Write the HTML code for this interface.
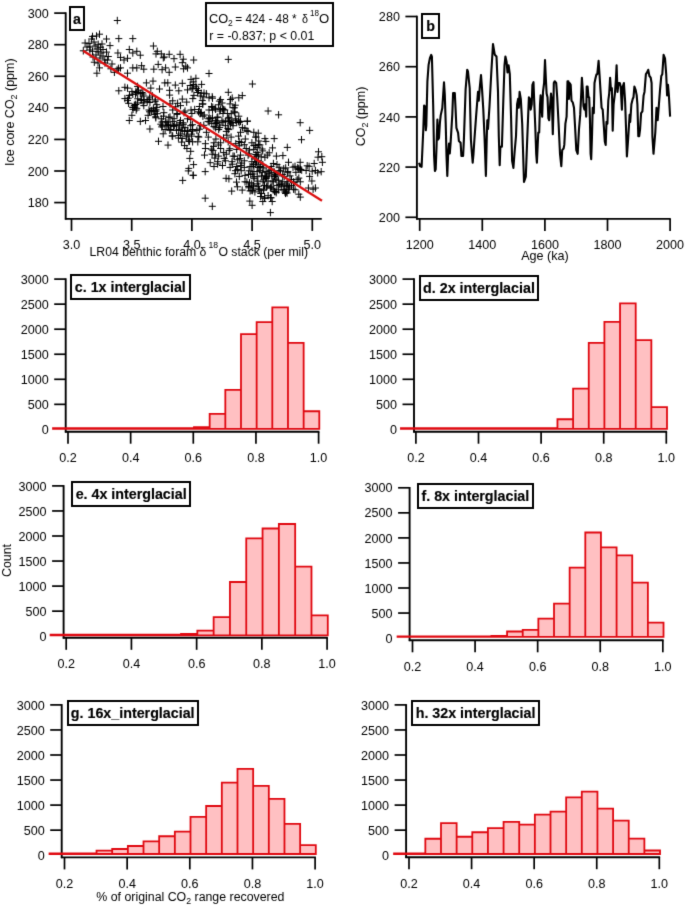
<!DOCTYPE html><html><head><meta charset="utf-8"><style>html,body{margin:0;padding:0;background:#fff;overflow:hidden}svg{display:block}#w{width:685px;height:905px}</style></head><body><div id="w"><svg width="685" height="905" viewBox="0 0 685 905" style="font-family:'Liberation Sans', sans-serif" fill="#000"><defs><filter id="bl" x="0" y="0" width="100%" height="100%" filterUnits="userSpaceOnUse" color-interpolation-filters="sRGB"><feConvolveMatrix order="3" kernelMatrix="0.0114 0.0841 0.0114 0.0841 0.618 0.0841 0.0114 0.0841 0.0114" edgeMode="none"/></filter></defs><rect width="685" height="905" fill="#fff"/><g filter="url(#bl)"><line x1="65.70" y1="12.30" x2="65.70" y2="219.60" stroke="#000" stroke-width="1.9"/>
<line x1="54.20" y1="13.10" x2="65.70" y2="13.10" stroke="#000" stroke-width="1.7"/>
<text transform="translate(48.70 17.70) scale(1.05 1)" text-anchor="end" font-size="12" font-weight="normal" >300</text>
<line x1="54.20" y1="44.68" x2="65.70" y2="44.68" stroke="#000" stroke-width="1.7"/>
<text transform="translate(48.70 49.28) scale(1.05 1)" text-anchor="end" font-size="12" font-weight="normal" >280</text>
<line x1="54.20" y1="76.26" x2="65.70" y2="76.26" stroke="#000" stroke-width="1.7"/>
<text transform="translate(48.70 80.86) scale(1.05 1)" text-anchor="end" font-size="12" font-weight="normal" >260</text>
<line x1="54.20" y1="107.84" x2="65.70" y2="107.84" stroke="#000" stroke-width="1.7"/>
<text transform="translate(48.70 112.44) scale(1.05 1)" text-anchor="end" font-size="12" font-weight="normal" >240</text>
<line x1="54.20" y1="139.42" x2="65.70" y2="139.42" stroke="#000" stroke-width="1.7"/>
<text transform="translate(48.70 144.02) scale(1.05 1)" text-anchor="end" font-size="12" font-weight="normal" >220</text>
<line x1="54.20" y1="171.00" x2="65.70" y2="171.00" stroke="#000" stroke-width="1.7"/>
<text transform="translate(48.70 175.60) scale(1.05 1)" text-anchor="end" font-size="12" font-weight="normal" >200</text>
<line x1="54.20" y1="202.58" x2="65.70" y2="202.58" stroke="#000" stroke-width="1.7"/>
<text transform="translate(48.70 207.18) scale(1.05 1)" text-anchor="end" font-size="12" font-weight="normal" >180</text>
<line x1="64.90" y1="218.90" x2="321.80" y2="218.90" stroke="#000" stroke-width="1.9"/>
<line x1="71.50" y1="218.90" x2="71.50" y2="230.90" stroke="#000" stroke-width="1.7"/>
<text transform="translate(71.50 249.40) scale(1.05 1)" text-anchor="middle" font-size="12" font-weight="normal" >3.0</text>
<line x1="131.70" y1="218.90" x2="131.70" y2="230.90" stroke="#000" stroke-width="1.7"/>
<text transform="translate(131.70 249.40) scale(1.05 1)" text-anchor="middle" font-size="12" font-weight="normal" >3.5</text>
<line x1="191.90" y1="218.90" x2="191.90" y2="230.90" stroke="#000" stroke-width="1.7"/>
<text transform="translate(191.90 249.40) scale(1.05 1)" text-anchor="middle" font-size="12" font-weight="normal" >4.0</text>
<line x1="252.10" y1="218.90" x2="252.10" y2="230.90" stroke="#000" stroke-width="1.7"/>
<text transform="translate(252.10 249.40) scale(1.05 1)" text-anchor="middle" font-size="12" font-weight="normal" >4.5</text>
<line x1="312.30" y1="218.90" x2="312.30" y2="230.90" stroke="#000" stroke-width="1.7"/>
<text transform="translate(312.30 249.40) scale(1.05 1)" text-anchor="middle" font-size="12" font-weight="normal" >5.0</text>
<text transform="translate(14.2,112.2) rotate(-90) scale(1.04 1)" text-anchor="middle" font-size="12">Ice core CO<tspan font-size="8.5" dy="3">2</tspan><tspan dy="-3"> (ppm)</tspan></text>
<text transform="translate(89.5 256.1) scale(1.02 1)" font-size="12">LR04 benthic foram δ<tspan font-size="8.5" dx="2" dy="-8">18</tspan><tspan dx="0.3" dy="8">O stack (per mil)</tspan></text>
<path d="M113.8 20.5h7M117.3 16.8v7.4M96.0 34.2h7M99.5 30.5v7.4M93.0 36.0h7M96.5 32.3v7.4M89.0 36.4h7M92.5 32.7v7.4M88.1 39.0h7M91.6 35.3v7.4M103.0 39.0h7M106.5 35.3v7.4M115.3 38.6h7M118.8 34.9v7.4M129.3 38.6h7M132.8 34.9v7.4M81.6 43.0h7M85.1 39.3v7.4M85.5 43.4h7M89.0 39.7v7.4M94.7 44.3h7M98.2 40.6v7.4M91.6 46.0h7M95.1 42.3v7.4M96.9 47.3h7M100.4 43.6v7.4M106.5 45.6h7M110.0 41.9v7.4M79.8 50.8h7M83.3 47.1v7.4M86.4 50.0h7M89.9 46.3v7.4M89.0 51.3h7M92.5 47.6v7.4M94.7 51.7h7M98.2 48.0v7.4M103.0 52.1h7M106.5 48.4v7.4M99.5 49.5h7M103.0 45.8v7.4M114.4 53.0h7M117.9 49.3v7.4M125.8 49.5h7M129.3 45.8v7.4M129.3 53.0h7M132.8 49.3v7.4M117.0 57.4h7M120.5 53.7v7.4M120.5 60.0h7M124.0 56.3v7.4M124.0 58.3h7M127.5 54.6v7.4M104.8 56.5h7M108.3 52.8v7.4M103.9 60.0h7M107.4 56.3v7.4M101.3 60.0h7M104.8 56.3v7.4M90.8 62.2h7M94.3 58.5v7.4M96.0 67.9h7M99.5 64.2v7.4M107.4 68.8h7M110.9 65.1v7.4M117.0 67.9h7M120.5 64.2v7.4M110.9 72.3h7M114.4 68.6v7.4M129.3 67.9h7M132.8 64.2v7.4M93.4 73.2h7M96.9 69.5v7.4M124.0 73.2h7M127.5 69.5v7.4M86.5 47.0h7M90.0 43.3v7.4M90.5 42.0h7M94.0 38.3v7.4M93.5 49.0h7M97.0 45.3v7.4M97.5 53.0h7M101.0 49.3v7.4M99.5 56.0h7M103.0 52.3v7.4M96.5 58.0h7M100.0 54.3v7.4M92.5 55.0h7M96.0 51.3v7.4M89.5 57.0h7M93.0 53.3v7.4M98.5 44.0h7M102.0 40.3v7.4M83.5 47.0h7M87.0 43.3v7.4M101.5 63.0h7M105.0 59.3v7.4M94.5 63.0h7M98.0 59.3v7.4M108.5 64.0h7M112.0 60.3v7.4M113.5 70.0h7M117.0 66.3v7.4M149.9 46.0h7M153.4 42.3v7.4M133.3 51.3h7M136.8 47.6v7.4M136.8 55.2h7M140.3 51.5v7.4M153.8 51.3h7M157.3 47.6v7.4M152.5 53.9h7M156.0 50.2v7.4M157.8 53.9h7M161.3 50.2v7.4M160.8 57.0h7M164.3 53.3v7.4M165.7 54.3h7M169.2 50.6v7.4M170.5 58.7h7M174.0 55.0v7.4M176.6 54.3h7M180.1 50.6v7.4M178.8 62.7h7M182.3 59.0v7.4M190.2 60.0h7M193.7 56.3v7.4M138.1 65.7h7M141.6 62.0v7.4M140.3 69.2h7M143.8 65.5v7.4M133.3 67.9h7M136.8 64.2v7.4M150.3 69.2h7M153.8 65.5v7.4M154.7 64.4h7M158.2 60.7v7.4M158.6 69.7h7M162.1 66.0v7.4M162.1 67.9h7M165.6 64.2v7.4M165.7 72.3h7M169.2 68.6v7.4M171.8 67.0h7M175.3 63.3v7.4M180.1 68.8h7M183.6 65.1v7.4M184.0 67.9h7M187.5 64.2v7.4M182.3 66.2h7M185.8 62.5v7.4M224.8 59.4h7M228.3 55.7v7.4M205.5 73.5h7M209.0 69.8v7.4M198.1 84.4h7M201.6 80.7v7.4M248.9 84.0h7M252.4 80.3v7.4M224.8 92.3h7M228.3 88.6v7.4M192.4 78.3h7M195.9 74.6v7.4M192.4 86.2h7M195.9 82.5v7.4M195.0 90.5h7M198.5 86.8v7.4M115.3 90.8h7M118.8 87.1v7.4M121.4 87.3h7M124.9 83.6v7.4M124.0 88.1h7M127.5 84.4v7.4M128.4 91.6h7M131.9 87.9v7.4M129.3 94.3h7M132.8 90.6v7.4M121.4 98.6h7M124.9 94.9v7.4M124.9 98.2h7M128.4 94.5v7.4M124.0 100.4h7M127.5 96.7v7.4M129.3 107.4h7M132.8 103.7v7.4M128.4 115.3h7M131.9 111.6v7.4M125.8 120.5h7M129.3 116.8v7.4M149.5 81.1h7M153.0 77.4v7.4M142.9 82.9h7M146.4 79.2v7.4M161.3 82.9h7M164.8 79.2v7.4M164.3 82.9h7M167.8 79.2v7.4M171.8 85.1h7M175.3 81.4v7.4M178.8 83.3h7M182.3 79.6v7.4M156.0 89.0h7M159.5 85.3v7.4M166.1 90.3h7M169.6 86.6v7.4M166.1 95.1h7M169.6 91.4v7.4M187.5 79.4h7M191.0 75.7v7.4M184.0 89.9h7M187.5 86.2v7.4M175.3 90.8h7M178.8 87.1v7.4M189.3 98.6h7M192.8 94.9v7.4M178.8 99.1h7M182.3 95.4v7.4M183.2 102.1h7M186.7 98.4v7.4M169.2 100.8h7M172.7 97.1v7.4M147.3 88.1h7M150.8 84.4v7.4M136.8 121.4h7M140.3 117.7v7.4M142.0 120.5h7M145.5 116.8v7.4M144.6 115.3h7M148.1 111.6v7.4M145.5 110.0h7M149.0 106.3v7.4M133.3 108.3h7M136.8 104.6v7.4M137.6 100.4h7M141.1 96.7v7.4M144.6 99.5h7M148.1 95.8v7.4M151.6 101.3h7M155.1 97.6v7.4M153.4 107.4h7M156.9 103.7v7.4M159.5 106.5h7M163.0 102.8v7.4M160.4 112.7h7M163.9 109.0v7.4M166.5 103.9h7M170.0 100.2v7.4M169.2 110.0h7M172.7 106.3v7.4M177.0 105.6h7M180.5 101.9v7.4M187.5 110.0h7M191.0 106.3v7.4M188.4 113.5h7M191.9 109.8v7.4M180.5 112.7h7M184.0 109.0v7.4M173.5 114.4h7M177.0 110.7v7.4M166.5 117.0h7M170.0 113.3v7.4M157.8 118.8h7M161.3 115.1v7.4M150.8 114.4h7M154.3 110.7v7.4M162.1 121.4h7M165.6 117.7v7.4M169.2 121.4h7M172.7 117.7v7.4M177.0 120.5h7M180.5 116.8v7.4M184.0 118.8h7M187.5 115.1v7.4M134.1 86.4h7M137.6 82.7v7.4M133.3 92.5h7M136.8 88.8v7.4M136.8 93.4h7M140.3 89.7v7.4M140.3 96.0h7M143.8 92.3v7.4M149.0 96.0h7M152.5 92.3v7.4M134.1 103.0h7M137.6 99.3v7.4M140.3 105.6h7M143.8 101.9v7.4M149.9 108.3h7M153.4 104.6v7.4M186.7 85.5h7M190.2 81.8v7.4M189.3 88.1h7M192.8 84.4v7.4M238.8 95.6h7M242.3 91.9v7.4M235.3 97.8h7M238.8 94.1v7.4M227.0 99.5h7M230.5 95.8v7.4M226.5 103.9h7M230.0 100.2v7.4M231.8 105.2h7M235.3 101.5v7.4M230.9 107.8h7M234.4 104.1v7.4M218.6 103.0h7M222.1 99.3v7.4M215.1 104.8h7M218.6 101.1v7.4M209.0 98.2h7M212.5 94.5v7.4M202.9 93.8h7M206.4 90.1v7.4M196.8 96.0h7M200.3 92.3v7.4M194.1 92.5h7M197.6 88.8v7.4M200.3 96.9h7M203.8 93.2v7.4M205.5 97.8h7M209.0 94.1v7.4M199.4 103.9h7M202.9 100.2v7.4M195.9 106.5h7M199.4 102.8v7.4M208.1 106.5h7M211.6 102.8v7.4M211.6 108.3h7M215.1 104.6v7.4M205.5 110.0h7M209.0 106.3v7.4M216.9 109.2h7M220.4 105.5v7.4M221.3 110.0h7M224.8 106.3v7.4M223.9 113.5h7M227.4 109.8v7.4M219.5 113.5h7M223.0 109.8v7.4M214.3 117.0h7M217.8 113.3v7.4M209.0 117.9h7M212.5 114.2v7.4M204.6 121.4h7M208.1 117.7v7.4M196.8 112.7h7M200.3 109.0v7.4M199.4 116.2h7M202.9 112.5v7.4M195.0 111.8h7M198.5 108.1v7.4M235.3 116.2h7M238.8 112.5v7.4M231.8 118.8h7M235.3 115.1v7.4M237.0 121.4h7M240.5 117.7v7.4M244.0 121.0h7M247.5 117.3v7.4M224.8 118.8h7M228.3 115.1v7.4M219.5 122.3h7M223.0 118.6v7.4M213.4 122.7h7M216.9 119.0v7.4M227.8 122.3h7M231.3 118.6v7.4M264.6 111.0h7M268.1 107.3v7.4M275.1 114.8h7M278.6 111.1v7.4M296.7 122.7h7M300.2 119.0v7.4M306.2 130.4h7M309.7 126.7v7.4M298.0 139.7h7M301.5 136.0v7.4M283.8 147.4h7M287.3 143.7v7.4M270.7 138.6h7M274.2 134.9v7.4M261.4 138.6h7M264.9 134.9v7.4M262.4 141.4h7M265.9 137.7v7.4M252.6 137.0h7M256.1 133.3v7.4M269.0 147.9h7M272.5 144.2v7.4M258.6 149.0h7M262.1 145.3v7.4M253.7 147.4h7M257.2 143.7v7.4M265.7 152.8h7M269.2 149.1v7.4M272.9 156.1h7M276.4 152.4v7.4M279.4 155.6h7M282.9 151.9v7.4M261.4 157.2h7M264.9 153.5v7.4M254.8 155.0h7M258.3 151.3v7.4M315.0 151.8h7M318.5 148.1v7.4M318.3 156.7h7M321.8 153.0v7.4M314.5 157.2h7M318.0 153.5v7.4M205.7 121.9h7M209.2 118.2v7.4M213.3 121.9h7M216.8 118.2v7.4M221.9 121.4h7M225.4 117.7v7.4M229.5 122.8h7M233.0 119.1v7.4M237.0 121.4h7M240.5 117.7v7.4M243.7 121.4h7M247.2 117.7v7.4M197.2 125.7h7M200.7 122.0v7.4M210.5 126.6h7M214.0 122.9v7.4M216.2 127.6h7M219.7 123.9v7.4M221.9 125.7h7M225.4 122.0v7.4M229.5 125.7h7M233.0 122.0v7.4M238.9 127.6h7M242.4 123.9v7.4M193.4 130.4h7M196.9 126.7v7.4M202.9 132.3h7M206.4 128.6v7.4M215.2 129.5h7M218.7 125.8v7.4M222.8 131.4h7M226.3 127.7v7.4M237.0 132.3h7M240.5 128.6v7.4M244.6 131.4h7M248.1 127.7v7.4M250.3 132.3h7M253.8 128.6v7.4M195.3 137.1h7M198.8 133.4v7.4M204.8 137.1h7M208.3 133.4v7.4M212.4 139.0h7M215.9 135.3v7.4M220.0 138.0h7M223.5 134.3v7.4M227.6 137.1h7M231.1 133.4v7.4M235.1 136.1h7M238.6 132.4v7.4M241.8 139.0h7M245.3 135.3v7.4M252.2 137.1h7M255.7 133.4v7.4M194.3 141.8h7M197.8 138.1v7.4M201.9 143.7h7M205.4 140.0v7.4M210.5 142.8h7M214.0 139.1v7.4M217.1 142.8h7M220.6 139.1v7.4M224.7 141.8h7M228.2 138.1v7.4M232.3 143.7h7M235.8 140.0v7.4M240.8 144.7h7M244.3 141.0v7.4M248.4 142.8h7M251.9 139.1v7.4M255.1 144.7h7M258.6 141.0v7.4M201.9 148.5h7M205.4 144.8v7.4M209.5 150.4h7M213.0 146.7v7.4M217.1 148.5h7M220.6 144.8v7.4M225.7 150.4h7M229.2 146.7v7.4M233.2 149.4h7M236.7 145.7v7.4M242.7 148.5h7M246.2 144.8v7.4M250.3 149.4h7M253.8 145.7v7.4M201.0 155.1h7M204.5 151.4v7.4M208.6 154.2h7M212.1 150.5v7.4M215.2 156.1h7M218.7 152.4v7.4M222.8 154.2h7M226.3 150.5v7.4M229.5 156.1h7M233.0 152.4v7.4M237.0 155.1h7M240.5 151.4v7.4M244.6 155.1h7M248.1 151.4v7.4M253.2 156.1h7M256.7 152.4v7.4M206.7 162.7h7M210.2 159.0v7.4M214.3 161.7h7M217.8 158.0v7.4M221.9 160.8h7M225.4 157.1v7.4M228.5 161.7h7M232.0 158.0v7.4M234.2 159.8h7M237.7 156.1v7.4M240.8 160.8h7M244.3 157.1v7.4M248.4 161.7h7M251.9 158.0v7.4M255.1 160.8h7M258.6 157.1v7.4M210.5 166.5h7M214.0 162.8v7.4M219.0 165.5h7M222.5 161.8v7.4M226.6 167.4h7M230.1 163.7v7.4M233.2 166.5h7M236.7 162.8v7.4M240.8 167.4h7M244.3 163.7v7.4M248.4 166.5h7M251.9 162.8v7.4M146.4 129.0h7M149.9 125.3v7.4M159.7 133.8h7M163.2 130.1v7.4M155.0 141.3h7M158.5 137.6v7.4M164.5 145.1h7M168.0 141.4v7.4M169.2 136.1h7M172.7 132.4v7.4M174.9 138.0h7M178.4 134.3v7.4M178.7 138.5h7M182.2 134.8v7.4M181.1 145.6h7M184.6 141.9v7.4M183.4 148.5h7M186.9 144.8v7.4M187.2 151.3h7M190.7 147.6v7.4M186.3 158.4h7M189.8 154.7v7.4M190.1 164.6h7M193.6 160.9v7.4M185.3 168.4h7M188.8 164.7v7.4M163.5 122.8h7M167.0 119.1v7.4M179.6 122.8h7M183.1 119.1v7.4M158.8 125.7h7M162.3 122.0v7.4M164.5 124.7h7M168.0 121.0v7.4M170.1 126.6h7M173.6 122.9v7.4M175.8 125.7h7M179.3 122.0v7.4M181.5 127.6h7M185.0 123.9v7.4M187.2 125.7h7M190.7 122.0v7.4M161.6 129.5h7M165.1 125.8v7.4M167.3 129.5h7M170.8 125.8v7.4M173.0 130.4h7M176.5 126.7v7.4M178.7 130.4h7M182.2 126.7v7.4M184.4 131.4h7M187.9 127.7v7.4M189.1 129.5h7M192.6 125.8v7.4M183.4 135.2h7M186.9 131.5v7.4M188.2 136.1h7M191.7 132.4v7.4M185.3 139.9h7M188.8 136.2v7.4M189.1 141.8h7M192.6 138.1v7.4M189.8 175.4h7M193.3 171.7v7.4M201.7 171.6h7M205.2 167.9v7.4M201.7 198.2h7M205.2 194.5v7.4M208.8 206.3h7M212.3 202.6v7.4M222.6 178.3h7M226.1 174.6v7.4M225.4 178.8h7M228.9 175.1v7.4M228.2 191.1h7M231.7 187.4v7.4M233.9 186.8h7M237.4 183.1v7.4M238.7 190.1h7M242.2 186.4v7.4M233.0 182.1h7M236.5 178.4v7.4M232.0 170.7h7M235.5 167.0v7.4M237.7 170.7h7M241.2 167.0v7.4M235.8 176.4h7M239.3 172.7v7.4M241.5 175.4h7M245.0 171.7v7.4M247.2 174.5h7M250.7 170.8v7.4M243.4 182.1h7M246.9 178.4v7.4M248.2 184.0h7M251.7 180.3v7.4M245.3 187.8h7M248.8 184.1v7.4M249.1 190.6h7M252.6 186.9v7.4M246.3 201.1h7M249.8 197.4v7.4M248.6 205.3h7M252.1 201.6v7.4M266.9 212.6h7M270.4 208.9v7.4M259.3 201.5h7M262.8 197.8v7.4M268.7 201.5h7M272.2 197.8v7.4M309.6 189.2h7M313.1 185.5v7.4M311.9 188.0h7M315.4 184.3v7.4M304.9 188.0h7M308.4 184.3v7.4M308.4 181.0h7M311.9 177.3v7.4M306.1 176.4h7M309.6 172.7v7.4M296.7 162.3h7M300.2 158.6v7.4M303.7 165.8h7M307.2 162.1v7.4M310.7 163.5h7M314.2 159.8v7.4M318.9 162.3h7M322.4 158.6v7.4M311.9 170.5h7M315.4 166.8v7.4M317.7 171.7h7M321.2 168.0v7.4M314.2 172.8h7M317.7 169.1v7.4M302.6 170.5h7M306.1 166.8v7.4M285.0 162.3h7M288.5 158.6v7.4M250.0 185.7h7M253.5 182.0v7.4M247.7 190.4h7M251.2 186.7v7.4M248.8 174.0h7M252.3 170.3v7.4M250.0 164.7h7M253.5 161.0v7.4M259.3 164.7h7M262.8 161.0v7.4M269.9 163.5h7M273.4 159.8v7.4M184.8 170.9h7M188.3 167.2v7.4M189.6 175.2h7M193.1 171.5v7.4M179.2 180.4h7M182.7 176.7v7.4M132.3 104.5h7M135.8 100.8v7.4M131.3 107.3h7M134.8 103.6v7.4M134.2 98.8h7M137.7 95.1v7.4M143.7 101.6h7M147.2 97.9v7.4M150.3 111.1h7M153.8 107.4v7.4M152.2 116.8h7M155.7 113.1v7.4M254.4 167.2h7M257.9 163.5v7.4M260.3 167.9h7M263.8 164.2v7.4M267.6 166.5h7M271.1 162.8v7.4M275.6 167.2h7M279.1 163.5v7.4M282.2 167.9h7M285.7 164.2v7.4M289.5 167.2h7M293.0 163.5v7.4M295.3 168.6h7M298.8 164.9v7.4M298.2 170.1h7M301.7 166.4v7.4M253.7 171.6h7M257.2 167.9v7.4M258.8 172.3h7M262.3 168.6v7.4M264.6 173.0h7M268.1 169.3v7.4M270.5 172.3h7M274.0 168.6v7.4M275.6 170.8h7M279.1 167.1v7.4M284.3 171.6h7M287.8 167.9v7.4M292.4 172.3h7M295.9 168.6v7.4M253.7 176.7h7M257.2 173.0v7.4M258.1 175.9h7M261.6 172.2v7.4M263.2 176.7h7M266.7 173.0v7.4M268.3 175.9h7M271.8 172.2v7.4M273.4 175.9h7M276.9 172.2v7.4M280.7 176.7h7M284.2 173.0v7.4M286.5 175.9h7M290.0 172.2v7.4M295.3 178.1h7M298.8 174.4v7.4M254.4 181.1h7M257.9 177.4v7.4M259.5 181.8h7M263.0 178.1v7.4M264.6 181.1h7M268.1 177.4v7.4M269.7 181.8h7M273.2 178.1v7.4M274.9 180.3h7M278.4 176.6v7.4M279.2 181.8h7M282.7 178.1v7.4M284.3 181.8h7M287.8 178.1v7.4M290.2 181.8h7M293.7 178.1v7.4M296.8 181.8h7M300.3 178.1v7.4M255.1 186.2h7M258.6 182.5v7.4M261.0 185.4h7M264.5 181.7v7.4M267.6 186.2h7M271.1 182.5v7.4M273.4 185.4h7M276.9 181.7v7.4M277.8 186.2h7M281.3 182.5v7.4M283.6 186.2h7M287.1 182.5v7.4M288.0 185.4h7M291.5 181.7v7.4M255.9 189.8h7M259.4 186.1v7.4M260.3 189.1h7M263.8 185.4v7.4M269.7 189.8h7M273.2 186.1v7.4M274.9 189.8h7M278.4 186.1v7.4M280.7 189.8h7M284.2 186.1v7.4M285.1 189.1h7M288.6 185.4v7.4M291.6 189.8h7M295.1 186.1v7.4M258.1 193.5h7M261.6 189.8v7.4M264.6 195.7h7M268.1 192.0v7.4M272.7 192.7h7M276.2 189.0v7.4M281.4 192.0h7M284.9 188.3v7.4M295.3 194.2h7M298.8 190.5v7.4M261.0 197.8h7M264.5 194.1v7.4M267.6 197.8h7M271.1 194.1v7.4M296.8 197.1h7M300.3 193.4v7.4M114.9 68.3h7M118.4 64.6v7.4M159.8 57.8h7M163.3 54.1v7.4M179.8 59.2h7M183.3 55.5v7.4M188.5 88.9h7M192.0 85.2v7.4M193.1 88.4h7M196.6 84.7v7.4M132.4 91.4h7M135.9 87.7v7.4M132.0 94.1h7M135.5 90.4v7.4M126.0 95.4h7M129.5 91.7v7.4M125.1 103.3h7M128.6 99.6v7.4M129.5 109.3h7M133.0 105.6v7.4M146.0 111.8h7M149.5 108.1v7.4M147.6 110.7h7M151.1 107.0v7.4M131.7 104.5h7M135.2 100.8v7.4M140.5 100.2h7M144.0 96.5v7.4M146.4 102.5h7M149.9 98.8v7.4M153.3 104.7h7M156.8 101.0v7.4M152.6 109.8h7M156.1 106.1v7.4M160.0 116.2h7M163.5 112.5v7.4M172.2 106.8h7M175.7 103.1v7.4M174.1 103.3h7M177.6 99.6v7.4M191.2 109.5h7M194.7 105.8v7.4M181.5 111.1h7M185.0 107.4v7.4M173.6 113.5h7M177.1 109.8v7.4M165.3 117.7h7M168.8 114.0v7.4M158.5 122.0h7M162.0 118.3v7.4M152.3 117.8h7M155.8 114.1v7.4M165.0 125.3h7M168.5 121.6v7.4M170.6 118.7h7M174.1 115.0v7.4M179.9 124.2h7M183.4 120.5v7.4M187.2 119.4h7M190.7 115.7v7.4M135.0 90.2h7M138.5 86.5v7.4M139.5 94.0h7M143.0 90.3v7.4M138.6 92.5h7M142.1 88.8v7.4M151.8 99.9h7M155.3 96.2v7.4M130.8 105.4h7M134.3 101.7v7.4M139.6 102.8h7M143.1 99.1v7.4M148.3 110.5h7M151.8 106.8v7.4M189.7 81.9h7M193.2 78.2v7.4M190.2 84.5h7M193.7 80.8v7.4M228.7 98.1h7M232.2 94.4v7.4M229.5 107.7h7M233.0 104.0v7.4M230.9 111.8h7M234.4 108.1v7.4M217.1 99.6h7M220.6 95.9v7.4M215.9 101.1h7M219.4 97.4v7.4M200.5 93.1h7M204.0 89.4v7.4M197.7 93.2h7M201.2 89.5v7.4M190.4 95.4h7M193.9 91.7v7.4M198.8 100.6h7M202.3 96.9v7.4M208.7 96.8h7M212.2 93.1v7.4M199.1 104.1h7M202.6 100.4v7.4M209.3 107.3h7M212.8 103.6v7.4M212.1 109.3h7M215.6 105.6v7.4M209.0 110.1h7M212.5 106.4v7.4M216.3 111.0h7M219.8 107.3v7.4M219.2 108.4h7M222.7 104.7v7.4M227.7 113.7h7M231.2 110.0v7.4M219.9 109.6h7M223.4 105.9v7.4M213.6 117.6h7M217.1 113.9v7.4M205.2 118.8h7M208.7 115.1v7.4M205.7 117.9h7M209.2 114.2v7.4M197.8 112.4h7M201.3 108.7v7.4M200.8 115.0h7M204.3 111.3v7.4M196.7 113.7h7M200.2 110.0v7.4M231.5 112.7h7M235.0 109.0v7.4M233.2 122.5h7M236.7 118.8v7.4M235.0 121.1h7M238.5 117.4v7.4M225.5 117.4h7M229.0 113.7v7.4M218.4 120.8h7M221.9 117.1v7.4M212.4 123.5h7M215.9 119.8v7.4M226.2 121.3h7M229.7 117.6v7.4M254.8 133.2h7M258.3 129.5v7.4M259.2 150.9h7M262.7 147.2v7.4M252.2 145.2h7M255.7 141.5v7.4M263.8 155.1h7M267.3 151.4v7.4M252.3 154.5h7M255.8 150.8v7.4M207.3 118.7h7M210.8 115.0v7.4M211.9 120.6h7M215.4 116.9v7.4M224.6 120.9h7M228.1 117.2v7.4M232.3 120.2h7M235.8 116.5v7.4M235.7 122.6h7M239.2 118.9v7.4M200.3 125.3h7M203.8 121.6v7.4M208.3 123.6h7M211.8 119.9v7.4M216.4 125.1h7M219.9 121.4v7.4M224.4 128.4h7M227.9 124.7v7.4M227.0 123.9h7M230.5 120.2v7.4M241.4 128.7h7M244.9 125.0v7.4M195.9 129.2h7M199.4 125.5v7.4M212.2 127.8h7M215.7 124.1v7.4M225.2 129.6h7M228.7 125.9v7.4M243.4 130.7h7M246.9 127.0v7.4M194.7 136.4h7M198.2 132.7v7.4M223.4 135.2h7M226.9 131.5v7.4M237.8 142.5h7M241.3 138.8v7.4M255.2 141.0h7M258.7 137.3v7.4M210.0 146.4h7M213.5 142.7v7.4M235.7 141.5h7M239.2 137.8v7.4M250.4 145.5h7M253.9 141.8v7.4M256.4 144.9h7M259.9 141.2v7.4M207.8 149.1h7M211.3 145.4v7.4M214.9 145.0h7M218.4 141.3v7.4M226.4 148.7h7M229.9 145.0v7.4M235.7 145.8h7M239.2 142.1v7.4M245.9 150.0h7M249.4 146.3v7.4M253.7 152.6h7M257.2 148.9v7.4M211.8 154.8h7M215.3 151.1v7.4M211.3 158.1h7M214.8 154.4v7.4M220.2 152.6h7M223.7 148.9v7.4M230.8 156.3h7M234.3 152.6v7.4M236.3 158.6h7M239.8 154.9v7.4M245.5 153.8h7M249.0 150.1v7.4M251.2 159.0h7M254.7 155.3v7.4M214.1 164.0h7M217.6 160.3v7.4M220.7 158.4h7M224.2 154.7v7.4M228.8 164.2h7M232.3 160.5v7.4M238.2 163.1h7M241.7 159.4v7.4M251.8 164.1h7M255.3 160.4v7.4M257.7 156.9h7M261.2 153.2v7.4M234.2 169.4h7M237.7 165.7v7.4M237.2 165.6h7M240.7 161.9v7.4M246.5 166.7h7M250.0 163.0v7.4M168.6 135.9h7M172.1 132.2v7.4M177.1 134.0h7M180.6 130.3v7.4M175.1 135.5h7M178.6 131.8v7.4M178.1 142.1h7M181.6 138.4v7.4M167.3 125.6h7M170.8 121.9v7.4M176.3 122.8h7M179.8 119.1v7.4M157.3 124.2h7M160.8 120.5v7.4M163.3 125.9h7M166.8 122.2v7.4M170.8 125.5h7M174.3 121.8v7.4M173.3 124.3h7M176.8 120.6v7.4M178.5 128.0h7M182.0 124.3v7.4M188.9 124.7h7M192.4 121.0v7.4M158.2 126.9h7M161.7 123.2v7.4M166.3 130.3h7M169.8 126.6v7.4M175.3 129.4h7M178.8 125.7v7.4M181.1 131.4h7M184.6 127.7v7.4M183.9 130.4h7M187.4 126.7v7.4M189.1 131.1h7M192.6 127.4v7.4M182.8 136.8h7M186.3 133.1v7.4M187.9 134.1h7M191.4 130.4v7.4M185.6 141.5h7M189.1 137.8v7.4M185.7 141.2h7M189.2 137.5v7.4M231.4 173.7h7M234.9 170.0v7.4M245.0 174.4h7M248.5 170.7v7.4M250.4 176.8h7M253.9 173.1v7.4M241.5 181.8h7M245.0 178.1v7.4M245.2 186.5h7M248.7 182.8v7.4M246.6 190.9h7M250.1 187.2v7.4M251.4 191.9h7M254.9 188.2v7.4M305.6 166.3h7M309.1 162.6v7.4M308.7 171.2h7M312.2 167.5v7.4M246.0 182.8h7M249.5 179.1v7.4M249.9 186.8h7M253.4 183.1v7.4M245.5 170.8h7M249.0 167.1v7.4M253.0 162.1h7M256.5 158.4v7.4M255.5 167.4h7M259.0 163.7v7.4M129.3 107.3h7M132.8 103.6v7.4M132.7 110.0h7M136.2 106.3v7.4M137.8 99.4h7M141.3 95.7v7.4M146.1 97.9h7M149.6 94.2v7.4M152.4 111.2h7M155.9 107.5v7.4M153.9 113.7h7M157.4 110.0v7.4M256.4 170.7h7M259.9 167.0v7.4M256.8 166.5h7M260.3 162.8v7.4M268.1 169.1h7M271.6 165.4v7.4M273.5 164.6h7M277.0 160.9v7.4M280.2 168.8h7M283.7 165.1v7.4M291.5 166.3h7M295.0 162.6v7.4M294.2 167.8h7M297.7 164.1v7.4M297.0 169.4h7M300.5 165.7v7.4M250.4 171.6h7M253.9 167.9v7.4M262.6 171.6h7M266.1 167.9v7.4M266.6 170.3h7M270.1 166.6v7.4M272.0 174.3h7M275.5 170.6v7.4M277.0 170.9h7M280.5 167.2v7.4M284.2 172.7h7M287.7 169.0v7.4M295.6 169.5h7M299.1 165.8v7.4M250.5 178.7h7M254.0 175.0v7.4M261.4 176.0h7M264.9 172.3v7.4M262.7 178.5h7M266.2 174.8v7.4M265.8 174.0h7M269.3 170.3v7.4M271.0 176.6h7M274.5 172.9v7.4M279.2 174.6h7M282.7 170.9v7.4M288.0 179.5h7M291.5 175.8v7.4M293.7 179.7h7M297.2 176.0v7.4M253.7 183.9h7M257.2 180.2v7.4M260.2 179.9h7M263.7 176.2v7.4M262.3 177.3h7M265.8 173.6v7.4M269.5 180.9h7M273.0 177.2v7.4M272.3 179.2h7M275.8 175.5v7.4M277.8 184.0h7M281.3 180.3v7.4M281.4 185.7h7M284.9 182.0v7.4M290.0 182.6h7M293.5 178.9v7.4M254.8 188.9h7M258.3 185.2v7.4M263.6 185.9h7M267.1 182.2v7.4M267.5 188.0h7M271.0 184.3v7.4M276.3 184.6h7M279.8 180.9v7.4M279.7 189.9h7M283.2 186.2v7.4M283.3 184.0h7M286.8 180.3v7.4M285.9 187.1h7M289.4 183.4v7.4M257.3 193.5h7M260.8 189.8v7.4M263.1 187.0h7M266.6 183.3v7.4M267.2 187.9h7M270.7 184.2v7.4M272.4 191.4h7M275.9 187.7v7.4M283.6 193.0h7M287.1 189.3v7.4M283.1 192.0h7M286.6 188.3v7.4M290.1 189.2h7M293.6 185.5v7.4M259.9 190.2h7M263.4 186.5v7.4M261.3 198.4h7M264.8 194.7v7.4M271.0 191.6h7M274.5 187.9v7.4M282.0 193.4h7M285.5 189.7v7.4M257.1 196.5h7M260.6 192.8v7.4M267.1 197.7h7M270.6 194.0v7.4" stroke="#000" stroke-width="1.0" fill="none"/>
<line x1="83.10" y1="50.70" x2="322.00" y2="200.70" stroke="#dc1010" stroke-width="2.3"/>
<rect x="70" y="7" width="14" height="23" fill="#fff" stroke="#000" stroke-width="2.0"/>
<text transform="translate(77.00 23.75) scale(1.02 1)" text-anchor="middle" font-size="14" font-weight="bold" stroke="#000" stroke-width="0.15" >a</text>
<rect x="206" y="3" width="127" height="43" fill="#fff" stroke="#000" stroke-width="2.0"/>
<text x="208.9" y="22.9" font-size="12" textLength="19.2" lengthAdjust="spacingAndGlyphs">CO</text>
<text x="227.9" y="26.1" font-size="8.5">2</text>
<text x="235.3" y="22.9" font-size="12" textLength="61.3" lengthAdjust="spacingAndGlyphs">= 424 - 48 *</text>
<text x="302.0" y="22.9" font-size="12" textLength="6.0" lengthAdjust="spacingAndGlyphs">δ</text>
<text x="310.0" y="16.0" font-size="8.5" textLength="9.0" lengthAdjust="spacingAndGlyphs">18</text>
<text x="319.0" y="22.9" font-size="12" textLength="10.2" lengthAdjust="spacingAndGlyphs">O</text>
<text transform="translate(209.3 39.9) scale(1.03 1)" font-size="12">r = -0.837; p &lt; 0.01</text>
<line x1="416.90" y1="15.70" x2="416.90" y2="219.60" stroke="#000" stroke-width="1.9"/>
<line x1="405.40" y1="16.50" x2="416.90" y2="16.50" stroke="#000" stroke-width="1.7"/>
<text transform="translate(399.90 21.10) scale(1.05 1)" text-anchor="end" font-size="12" font-weight="normal" >280</text>
<line x1="405.40" y1="66.70" x2="416.90" y2="66.70" stroke="#000" stroke-width="1.7"/>
<text transform="translate(399.90 71.30) scale(1.05 1)" text-anchor="end" font-size="12" font-weight="normal" >260</text>
<line x1="405.40" y1="116.90" x2="416.90" y2="116.90" stroke="#000" stroke-width="1.7"/>
<text transform="translate(399.90 121.50) scale(1.05 1)" text-anchor="end" font-size="12" font-weight="normal" >240</text>
<line x1="405.40" y1="167.10" x2="416.90" y2="167.10" stroke="#000" stroke-width="1.7"/>
<text transform="translate(399.90 171.70) scale(1.05 1)" text-anchor="end" font-size="12" font-weight="normal" >220</text>
<line x1="405.40" y1="217.30" x2="416.90" y2="217.30" stroke="#000" stroke-width="1.7"/>
<text transform="translate(399.90 221.90) scale(1.05 1)" text-anchor="end" font-size="12" font-weight="normal" >200</text>
<line x1="416.10" y1="218.90" x2="670.80" y2="218.90" stroke="#000" stroke-width="1.9"/>
<line x1="419.70" y1="218.90" x2="419.70" y2="230.90" stroke="#000" stroke-width="1.7"/>
<text transform="translate(419.70 249.40) scale(1.05 1)" text-anchor="middle" font-size="12" font-weight="normal" >1200</text>
<line x1="482.30" y1="218.90" x2="482.30" y2="230.90" stroke="#000" stroke-width="1.7"/>
<text transform="translate(482.30 249.40) scale(1.05 1)" text-anchor="middle" font-size="12" font-weight="normal" >1400</text>
<line x1="544.90" y1="218.90" x2="544.90" y2="230.90" stroke="#000" stroke-width="1.7"/>
<text transform="translate(544.90 249.40) scale(1.05 1)" text-anchor="middle" font-size="12" font-weight="normal" >1600</text>
<line x1="607.50" y1="218.90" x2="607.50" y2="230.90" stroke="#000" stroke-width="1.7"/>
<text transform="translate(607.50 249.40) scale(1.05 1)" text-anchor="middle" font-size="12" font-weight="normal" >1800</text>
<line x1="670.10" y1="218.90" x2="670.10" y2="230.90" stroke="#000" stroke-width="1.7"/>
<text transform="translate(670.10 249.40) scale(1.05 1)" text-anchor="middle" font-size="12" font-weight="normal" >2000</text>
<text transform="translate(364.9,116.5) rotate(-90) scale(1.04 1)" text-anchor="middle" font-size="12">CO<tspan font-size="8.5" dy="3">2</tspan><tspan dy="-3"> (ppm)</tspan></text>
<text transform="translate(545.00 260.20) scale(1.05 1)" text-anchor="middle" font-size="12" font-weight="normal" >Age (ka)</text>
<polyline fill="none" stroke="#000" stroke-width="2.1" stroke-linejoin="round" points="419.1,162.7 420.0,166.0 421.6,166.8 423.3,129.5 424.1,105.5 424.9,106.5 425.8,130.3 426.3,126.0 427.4,81.4 428.6,64.9 429.9,58.2 431.2,54.9 431.9,56.6 433.2,106.3 434.1,156.0 434.9,171.0 435.7,169.3 436.5,147.7 437.4,119.6 438.2,139.5 439.0,138.0 439.9,122.9 440.7,115.4 442.3,108.0 444.0,82.3 444.8,94.7 445.7,122.9 446.5,156.0 447.3,175.9 448.2,152.7 449.0,143.6 449.8,153.5 450.6,142.8 452.3,114.6 453.1,93.0 454.8,93.0 455.6,109.6 456.4,127.8 458.1,132.8 458.9,141.1 460.6,142.8 461.4,156.0 463.1,156.0 463.9,139.5 465.6,89.7 467.2,69.8 468.0,71.5 469.7,88.0 470.9,139.6 471.8,152.0 472.7,162.6 473.5,153.8 474.4,139.6 476.2,114.9 478.0,91.9 478.8,100.7 479.7,88.3 481.0,75.1 482.0,88.3 483.3,109.6 484.5,136.1 485.9,175.9 486.8,136.1 487.3,120.2 488.0,129.0 489.5,106.0 491.2,74.2 493.0,44.1 494.8,54.8 496.5,56.5 498.0,91.9 498.8,136.1 499.7,165.3 500.4,146.7 501.9,146.7 503.3,100.7 504.5,65.4 505.4,56.5 506.6,61.8 507.5,72.4 508.6,65.4 509.8,74.2 511.1,118.4 512.1,160.8 513.4,167.9 514.6,152.0 516.0,136.1 517.1,104.3 518.1,98.9 518.8,107.8 519.6,91.9 520.8,98.9 522.2,123.7 524.0,182.0 525.8,176.7 527.0,144.9 528.4,109.6 528.9,97.2 530.0,99.0 530.7,109.6 531.7,104.3 532.4,84.8 533.5,82.2 534.2,100.7 535.3,127.2 536.2,153.8 536.9,162.6 537.7,144.9 538.3,132.5 539.2,132.5 540.0,104.3 540.6,95.4 541.3,104.3 542.2,116.6 543.0,91.9 544.1,83.0 545.0,60.1 545.9,79.5 546.6,93.6 547.5,97.2 548.4,118.4 549.2,120.2 550.1,106.0 551.0,93.6 551.9,100.7 552.8,134.3 553.3,114.9 553.8,83.0 554.7,81.3 556.2,83.0 557.2,97.2 558.6,123.7 560.0,153.8 561.3,166.1 562.2,150.2 563.6,148.5 564.3,144.9 565.4,123.7 566.6,116.6 567.5,81.3 568.4,81.3 568.9,99.0 569.6,83.0 570.7,84.8 571.5,100.7 572.8,102.5 574.0,107.8 575.1,127.2 576.3,150.2 577.7,153.8 579.0,129.0 580.2,114.9 581.3,91.9 581.9,77.7 582.9,91.9 583.5,106.0 584.4,109.6 585.3,104.3 586.2,116.6 586.7,86.6 587.6,86.6 588.5,97.2 589.2,97.2 589.9,118.4 590.6,153.8 591.2,159.1 592.0,136.1 592.7,107.8 593.8,113.1 594.5,83.0 595.6,77.7 596.5,74.2 597.3,74.2 598.6,60.9 599.5,74.2 600.7,93.6 601.6,107.8 602.7,109.6 603.9,127.2 604.8,141.4 605.7,144.9 606.5,121.9 607.4,123.7 608.3,100.7 609.2,93.6 610.1,77.7 611.0,90.1 611.9,88.3 612.7,130.8 613.6,104.3 614.9,93.6 615.9,79.5 616.6,65.4 617.5,91.9 618.6,83.0 619.8,83.0 620.7,86.6 621.9,109.6 622.8,86.6 623.9,83.0 625.1,100.7 626.0,127.2 626.9,156.4 628.1,139.6 629.6,114.9 630.2,121.9 631.4,104.3 632.7,99.0 633.5,97.2 634.4,86.6 635.7,90.1 636.7,95.4 637.4,104.3 638.3,136.1 639.2,136.1 640.1,129.0 641.1,113.1 642.4,111.3 643.6,95.4 644.5,91.9 645.9,74.2 647.1,72.4 648.2,69.8 649.4,76.0 650.7,77.7 651.6,83.0 652.4,136.1 653.5,153.8 654.4,143.1 655.3,132.5 656.5,107.8 657.7,120.2 658.8,106.0 660.0,90.1 661.3,76.0 662.3,74.2 663.6,54.8 665.0,58.3 666.2,74.2 667.1,95.4 668.0,84.8 668.9,95.4 670.1,116.6"/>
<rect x="422" y="14" width="17" height="24" fill="#fff" stroke="#000" stroke-width="2.0"/>
<text transform="translate(430.50 31.25) scale(1.02 1)" text-anchor="middle" font-size="14" font-weight="bold" stroke="#000" stroke-width="0.15" >b</text>
<line x1="65.70" y1="278.30" x2="65.70" y2="432.50" stroke="#000" stroke-width="1.9"/>
<line x1="54.20" y1="279.10" x2="65.70" y2="279.10" stroke="#000" stroke-width="1.7"/>
<text transform="translate(48.70 283.70) scale(1.05 1)" text-anchor="end" font-size="12" font-weight="normal" >3000</text>
<line x1="54.20" y1="304.15" x2="65.70" y2="304.15" stroke="#000" stroke-width="1.7"/>
<text transform="translate(48.70 308.75) scale(1.05 1)" text-anchor="end" font-size="12" font-weight="normal" >2500</text>
<line x1="54.20" y1="329.20" x2="65.70" y2="329.20" stroke="#000" stroke-width="1.7"/>
<text transform="translate(48.70 333.80) scale(1.05 1)" text-anchor="end" font-size="12" font-weight="normal" >2000</text>
<line x1="54.20" y1="354.25" x2="65.70" y2="354.25" stroke="#000" stroke-width="1.7"/>
<text transform="translate(48.70 358.85) scale(1.05 1)" text-anchor="end" font-size="12" font-weight="normal" >1500</text>
<line x1="54.20" y1="379.30" x2="65.70" y2="379.30" stroke="#000" stroke-width="1.7"/>
<text transform="translate(48.70 383.90) scale(1.05 1)" text-anchor="end" font-size="12" font-weight="normal" >1000</text>
<line x1="54.20" y1="404.35" x2="65.70" y2="404.35" stroke="#000" stroke-width="1.7"/>
<text transform="translate(48.70 408.95) scale(1.05 1)" text-anchor="end" font-size="12" font-weight="normal" >500</text>
<text transform="translate(48.70 434.00) scale(1.05 1)" text-anchor="end" font-size="12" font-weight="normal" >0</text>
<line x1="64.90" y1="431.70" x2="319.40" y2="431.70" stroke="#000" stroke-width="1.9"/>
<line x1="68.00" y1="431.70" x2="68.00" y2="443.70" stroke="#000" stroke-width="1.7"/>
<text transform="translate(68.00 462.20) scale(1.05 1)" text-anchor="middle" font-size="12" font-weight="normal" >0.2</text>
<line x1="130.65" y1="431.70" x2="130.65" y2="443.70" stroke="#000" stroke-width="1.7"/>
<text transform="translate(130.65 462.20) scale(1.05 1)" text-anchor="middle" font-size="12" font-weight="normal" >0.4</text>
<line x1="193.30" y1="431.70" x2="193.30" y2="443.70" stroke="#000" stroke-width="1.7"/>
<text transform="translate(193.30 462.20) scale(1.05 1)" text-anchor="middle" font-size="12" font-weight="normal" >0.6</text>
<line x1="255.95" y1="431.70" x2="255.95" y2="443.70" stroke="#000" stroke-width="1.7"/>
<text transform="translate(255.95 462.20) scale(1.05 1)" text-anchor="middle" font-size="12" font-weight="normal" >0.8</text>
<line x1="318.60" y1="431.70" x2="318.60" y2="443.70" stroke="#000" stroke-width="1.7"/>
<text transform="translate(318.60 462.20) scale(1.05 1)" text-anchor="middle" font-size="12" font-weight="normal" >1.0</text>
<rect x="53.04" y="428.20" width="15.66" height="0.60" fill="#ffc0c2"/>
<rect x="68.70" y="428.20" width="15.66" height="0.60" fill="#ffc0c2"/>
<rect x="84.36" y="428.20" width="15.66" height="0.60" fill="#ffc0c2"/>
<rect x="100.03" y="428.20" width="15.66" height="0.60" fill="#ffc0c2"/>
<rect x="115.69" y="428.20" width="15.66" height="0.60" fill="#ffc0c2"/>
<rect x="131.35" y="428.20" width="15.66" height="0.60" fill="#ffc0c2"/>
<rect x="147.01" y="428.20" width="15.66" height="0.60" fill="#ffc0c2"/>
<rect x="162.67" y="428.20" width="15.66" height="0.60" fill="#ffc0c2"/>
<rect x="178.34" y="428.20" width="15.66" height="0.60" fill="#ffc0c2"/>
<rect x="194.00" y="427.19" width="15.66" height="1.61" fill="#ffc0c2"/>
<rect x="209.66" y="413.92" width="15.66" height="14.88" fill="#ffc0c2"/>
<rect x="225.32" y="389.87" width="15.66" height="38.93" fill="#ffc0c2"/>
<rect x="240.99" y="334.11" width="15.66" height="94.69" fill="#ffc0c2"/>
<rect x="256.65" y="322.14" width="15.66" height="106.66" fill="#ffc0c2"/>
<rect x="272.31" y="307.46" width="15.66" height="121.34" fill="#ffc0c2"/>
<rect x="287.97" y="342.88" width="15.66" height="85.92" fill="#ffc0c2"/>
<rect x="303.64" y="411.26" width="15.66" height="17.54" fill="#ffc0c2"/>
<path d="M53.04 428.80L53.04 428.20L68.70 428.20L68.70 428.20L84.36 428.20L84.36 428.20L100.03 428.20L100.03 428.20L115.69 428.20L115.69 428.20L131.35 428.20L131.35 428.20L147.01 428.20L147.01 428.20L162.67 428.20L162.67 428.20L178.34 428.20L178.34 428.20L194.00 428.20L194.00 427.19L209.66 427.19L209.66 413.92L225.32 413.92L225.32 389.87L240.99 389.87L240.99 334.11L256.65 334.11L256.65 322.14L272.31 322.14L272.31 307.46L287.97 307.46L287.97 342.88L303.64 342.88L303.64 411.26L319.30 411.26L319.30 428.80ZM209.66 428.80L209.66 427.19M225.32 428.80L225.32 413.92M240.99 428.80L240.99 389.87M256.65 428.80L256.65 334.11M272.31 428.80L272.31 322.14M287.97 428.80L287.97 342.88M303.64 428.80L303.64 411.26" fill="none" stroke="#e00810" stroke-width="1.8" stroke-linejoin="miter"/>
<rect x="71" y="275" width="119" height="24" fill="#fff" stroke="#000" stroke-width="2.0"/>
<text transform="translate(130.30 292.40) scale(1.02 1)" text-anchor="middle" font-size="14" font-weight="bold" stroke="#000" stroke-width="0.15" >c. 1x interglacial</text>
<line x1="414.00" y1="278.30" x2="414.00" y2="432.50" stroke="#000" stroke-width="1.9"/>
<line x1="402.50" y1="279.10" x2="414.00" y2="279.10" stroke="#000" stroke-width="1.7"/>
<text transform="translate(397.00 283.70) scale(1.05 1)" text-anchor="end" font-size="12" font-weight="normal" >3000</text>
<line x1="402.50" y1="304.15" x2="414.00" y2="304.15" stroke="#000" stroke-width="1.7"/>
<text transform="translate(397.00 308.75) scale(1.05 1)" text-anchor="end" font-size="12" font-weight="normal" >2500</text>
<line x1="402.50" y1="329.20" x2="414.00" y2="329.20" stroke="#000" stroke-width="1.7"/>
<text transform="translate(397.00 333.80) scale(1.05 1)" text-anchor="end" font-size="12" font-weight="normal" >2000</text>
<line x1="402.50" y1="354.25" x2="414.00" y2="354.25" stroke="#000" stroke-width="1.7"/>
<text transform="translate(397.00 358.85) scale(1.05 1)" text-anchor="end" font-size="12" font-weight="normal" >1500</text>
<line x1="402.50" y1="379.30" x2="414.00" y2="379.30" stroke="#000" stroke-width="1.7"/>
<text transform="translate(397.00 383.90) scale(1.05 1)" text-anchor="end" font-size="12" font-weight="normal" >1000</text>
<line x1="402.50" y1="404.35" x2="414.00" y2="404.35" stroke="#000" stroke-width="1.7"/>
<text transform="translate(397.00 408.95) scale(1.05 1)" text-anchor="end" font-size="12" font-weight="normal" >500</text>
<text transform="translate(397.00 434.00) scale(1.05 1)" text-anchor="end" font-size="12" font-weight="normal" >0</text>
<line x1="413.20" y1="431.70" x2="667.10" y2="431.70" stroke="#000" stroke-width="1.9"/>
<line x1="415.90" y1="431.70" x2="415.90" y2="443.70" stroke="#000" stroke-width="1.7"/>
<text transform="translate(415.90 462.20) scale(1.05 1)" text-anchor="middle" font-size="12" font-weight="normal" >0.2</text>
<line x1="478.50" y1="431.70" x2="478.50" y2="443.70" stroke="#000" stroke-width="1.7"/>
<text transform="translate(478.50 462.20) scale(1.05 1)" text-anchor="middle" font-size="12" font-weight="normal" >0.4</text>
<line x1="541.10" y1="431.70" x2="541.10" y2="443.70" stroke="#000" stroke-width="1.7"/>
<text transform="translate(541.10 462.20) scale(1.05 1)" text-anchor="middle" font-size="12" font-weight="normal" >0.6</text>
<line x1="603.70" y1="431.70" x2="603.70" y2="443.70" stroke="#000" stroke-width="1.7"/>
<text transform="translate(603.70 462.20) scale(1.05 1)" text-anchor="middle" font-size="12" font-weight="normal" >0.8</text>
<line x1="666.30" y1="431.70" x2="666.30" y2="443.70" stroke="#000" stroke-width="1.7"/>
<text transform="translate(666.30 462.20) scale(1.05 1)" text-anchor="middle" font-size="12" font-weight="normal" >1.0</text>
<rect x="400.95" y="428.20" width="15.65" height="0.60" fill="#ffc0c2"/>
<rect x="416.60" y="428.20" width="15.65" height="0.60" fill="#ffc0c2"/>
<rect x="432.25" y="428.20" width="15.65" height="0.60" fill="#ffc0c2"/>
<rect x="447.90" y="428.20" width="15.65" height="0.60" fill="#ffc0c2"/>
<rect x="463.55" y="428.20" width="15.65" height="0.60" fill="#ffc0c2"/>
<rect x="479.20" y="428.20" width="15.65" height="0.60" fill="#ffc0c2"/>
<rect x="494.85" y="428.20" width="15.65" height="0.60" fill="#ffc0c2"/>
<rect x="510.50" y="428.20" width="15.65" height="0.60" fill="#ffc0c2"/>
<rect x="526.15" y="428.20" width="15.65" height="0.60" fill="#ffc0c2"/>
<rect x="541.80" y="428.20" width="15.65" height="0.60" fill="#ffc0c2"/>
<rect x="557.45" y="419.23" width="15.65" height="9.57" fill="#ffc0c2"/>
<rect x="573.10" y="388.57" width="15.65" height="40.23" fill="#ffc0c2"/>
<rect x="588.75" y="342.78" width="15.65" height="86.02" fill="#ffc0c2"/>
<rect x="604.40" y="321.93" width="15.65" height="106.87" fill="#ffc0c2"/>
<rect x="620.05" y="303.35" width="15.65" height="125.45" fill="#ffc0c2"/>
<rect x="635.70" y="340.07" width="15.65" height="88.73" fill="#ffc0c2"/>
<rect x="651.35" y="407.15" width="15.65" height="21.65" fill="#ffc0c2"/>
<path d="M400.95 428.80L400.95 428.20L416.60 428.20L416.60 428.20L432.25 428.20L432.25 428.20L447.90 428.20L447.90 428.20L463.55 428.20L463.55 428.20L479.20 428.20L479.20 428.20L494.85 428.20L494.85 428.20L510.50 428.20L510.50 428.20L526.15 428.20L526.15 428.20L541.80 428.20L541.80 428.20L557.45 428.20L557.45 419.23L573.10 419.23L573.10 388.57L588.75 388.57L588.75 342.78L604.40 342.78L604.40 321.93L620.05 321.93L620.05 303.35L635.70 303.35L635.70 340.07L651.35 340.07L651.35 407.15L667.00 407.15L667.00 428.80ZM573.10 428.80L573.10 419.23M588.75 428.80L588.75 388.57M604.40 428.80L604.40 342.78M620.05 428.80L620.05 321.93M635.70 428.80L635.70 340.07M651.35 428.80L651.35 407.15" fill="none" stroke="#e00810" stroke-width="1.8" stroke-linejoin="miter"/>
<rect x="420" y="276" width="118" height="24" fill="#fff" stroke="#000" stroke-width="2.0"/>
<text transform="translate(478.95 293.40) scale(1.02 1)" text-anchor="middle" font-size="14" font-weight="bold" stroke="#000" stroke-width="0.15" >d. 2x interglacial</text>
<line x1="63.60" y1="485.10" x2="63.60" y2="638.60" stroke="#000" stroke-width="1.9"/>
<line x1="52.10" y1="485.90" x2="63.60" y2="485.90" stroke="#000" stroke-width="1.7"/>
<text transform="translate(46.60 490.50) scale(1.05 1)" text-anchor="end" font-size="12" font-weight="normal" >3000</text>
<line x1="52.10" y1="510.95" x2="63.60" y2="510.95" stroke="#000" stroke-width="1.7"/>
<text transform="translate(46.60 515.55) scale(1.05 1)" text-anchor="end" font-size="12" font-weight="normal" >2500</text>
<line x1="52.10" y1="536.00" x2="63.60" y2="536.00" stroke="#000" stroke-width="1.7"/>
<text transform="translate(46.60 540.60) scale(1.05 1)" text-anchor="end" font-size="12" font-weight="normal" >2000</text>
<line x1="52.10" y1="561.05" x2="63.60" y2="561.05" stroke="#000" stroke-width="1.7"/>
<text transform="translate(46.60 565.65) scale(1.05 1)" text-anchor="end" font-size="12" font-weight="normal" >1500</text>
<line x1="52.10" y1="586.10" x2="63.60" y2="586.10" stroke="#000" stroke-width="1.7"/>
<text transform="translate(46.60 590.70) scale(1.05 1)" text-anchor="end" font-size="12" font-weight="normal" >1000</text>
<line x1="52.10" y1="611.15" x2="63.60" y2="611.15" stroke="#000" stroke-width="1.7"/>
<text transform="translate(46.60 615.75) scale(1.05 1)" text-anchor="end" font-size="12" font-weight="normal" >500</text>
<text transform="translate(46.60 640.80) scale(1.05 1)" text-anchor="end" font-size="12" font-weight="normal" >0</text>
<line x1="62.80" y1="637.80" x2="327.88" y2="637.80" stroke="#000" stroke-width="1.9"/>
<line x1="66.20" y1="637.80" x2="66.20" y2="649.80" stroke="#000" stroke-width="1.7"/>
<text transform="translate(66.20 668.30) scale(1.05 1)" text-anchor="middle" font-size="12" font-weight="normal" >0.2</text>
<line x1="131.42" y1="637.80" x2="131.42" y2="649.80" stroke="#000" stroke-width="1.7"/>
<text transform="translate(131.42 668.30) scale(1.05 1)" text-anchor="middle" font-size="12" font-weight="normal" >0.4</text>
<line x1="196.64" y1="637.80" x2="196.64" y2="649.80" stroke="#000" stroke-width="1.7"/>
<text transform="translate(196.64 668.30) scale(1.05 1)" text-anchor="middle" font-size="12" font-weight="normal" >0.6</text>
<line x1="261.86" y1="637.80" x2="261.86" y2="649.80" stroke="#000" stroke-width="1.7"/>
<text transform="translate(261.86 668.30) scale(1.05 1)" text-anchor="middle" font-size="12" font-weight="normal" >0.8</text>
<line x1="327.08" y1="637.80" x2="327.08" y2="649.80" stroke="#000" stroke-width="1.7"/>
<text transform="translate(327.08 668.30) scale(1.05 1)" text-anchor="middle" font-size="12" font-weight="normal" >1.0</text>
<rect x="50.59" y="634.70" width="16.31" height="0.60" fill="#ffc0c2"/>
<rect x="66.90" y="634.70" width="16.30" height="0.60" fill="#ffc0c2"/>
<rect x="83.20" y="634.70" width="16.31" height="0.60" fill="#ffc0c2"/>
<rect x="99.51" y="634.70" width="16.30" height="0.60" fill="#ffc0c2"/>
<rect x="115.81" y="634.70" width="16.31" height="0.60" fill="#ffc0c2"/>
<rect x="132.12" y="634.70" width="16.31" height="0.60" fill="#ffc0c2"/>
<rect x="148.43" y="634.70" width="16.30" height="0.60" fill="#ffc0c2"/>
<rect x="164.73" y="634.70" width="16.31" height="0.60" fill="#ffc0c2"/>
<rect x="181.04" y="634.00" width="16.30" height="1.30" fill="#ffc0c2"/>
<rect x="197.34" y="630.59" width="16.31" height="4.71" fill="#ffc0c2"/>
<rect x="213.64" y="617.16" width="16.31" height="18.14" fill="#ffc0c2"/>
<rect x="229.95" y="581.99" width="16.31" height="53.31" fill="#ffc0c2"/>
<rect x="246.25" y="538.30" width="16.31" height="97.00" fill="#ffc0c2"/>
<rect x="262.56" y="528.49" width="16.31" height="106.82" fill="#ffc0c2"/>
<rect x="278.87" y="523.98" width="16.30" height="111.32" fill="#ffc0c2"/>
<rect x="295.17" y="566.66" width="16.31" height="68.64" fill="#ffc0c2"/>
<rect x="311.48" y="615.36" width="16.31" height="19.94" fill="#ffc0c2"/>
<path d="M50.59 635.30L50.59 634.70L66.90 634.70L66.90 634.70L83.20 634.70L83.20 634.70L99.51 634.70L99.51 634.70L115.81 634.70L115.81 634.70L132.12 634.70L132.12 634.70L148.43 634.70L148.43 634.70L164.73 634.70L164.73 634.70L181.04 634.70L181.04 634.00L197.34 634.00L197.34 630.59L213.64 630.59L213.64 617.16L229.95 617.16L229.95 581.99L246.25 581.99L246.25 538.30L262.56 538.30L262.56 528.49L278.87 528.49L278.87 523.98L295.17 523.98L295.17 566.66L311.48 566.66L311.48 615.36L327.78 615.36L327.78 635.30ZM197.34 635.30L197.34 634.00M213.64 635.30L213.64 630.59M229.95 635.30L229.95 617.16M246.25 635.30L246.25 581.99M262.56 635.30L262.56 538.30M278.87 635.30L278.87 528.49M295.17 635.30L295.17 566.66M311.48 635.30L311.48 615.36" fill="none" stroke="#e00810" stroke-width="1.8" stroke-linejoin="miter"/>
<rect x="72" y="482" width="118" height="24" fill="#fff" stroke="#000" stroke-width="2.0"/>
<text transform="translate(131.15 499.00) scale(1.02 1)" text-anchor="middle" font-size="14" font-weight="bold" stroke="#000" stroke-width="0.15" >e. 4x interglacial</text>
<line x1="409.60" y1="487.00" x2="409.60" y2="641.10" stroke="#000" stroke-width="1.9"/>
<line x1="398.10" y1="487.80" x2="409.60" y2="487.80" stroke="#000" stroke-width="1.7"/>
<text transform="translate(392.60 492.40) scale(1.05 1)" text-anchor="end" font-size="12" font-weight="normal" >3000</text>
<line x1="398.10" y1="512.85" x2="409.60" y2="512.85" stroke="#000" stroke-width="1.7"/>
<text transform="translate(392.60 517.45) scale(1.05 1)" text-anchor="end" font-size="12" font-weight="normal" >2500</text>
<line x1="398.10" y1="537.90" x2="409.60" y2="537.90" stroke="#000" stroke-width="1.7"/>
<text transform="translate(392.60 542.50) scale(1.05 1)" text-anchor="end" font-size="12" font-weight="normal" >2000</text>
<line x1="398.10" y1="562.95" x2="409.60" y2="562.95" stroke="#000" stroke-width="1.7"/>
<text transform="translate(392.60 567.55) scale(1.05 1)" text-anchor="end" font-size="12" font-weight="normal" >1500</text>
<line x1="398.10" y1="588.00" x2="409.60" y2="588.00" stroke="#000" stroke-width="1.7"/>
<text transform="translate(392.60 592.60) scale(1.05 1)" text-anchor="end" font-size="12" font-weight="normal" >1000</text>
<line x1="398.10" y1="613.05" x2="409.60" y2="613.05" stroke="#000" stroke-width="1.7"/>
<text transform="translate(392.60 617.65) scale(1.05 1)" text-anchor="end" font-size="12" font-weight="normal" >500</text>
<text transform="translate(392.60 642.70) scale(1.05 1)" text-anchor="end" font-size="12" font-weight="normal" >0</text>
<line x1="408.80" y1="640.30" x2="663.62" y2="640.30" stroke="#000" stroke-width="1.9"/>
<line x1="412.50" y1="640.30" x2="412.50" y2="652.30" stroke="#000" stroke-width="1.7"/>
<text transform="translate(412.50 670.80) scale(1.05 1)" text-anchor="middle" font-size="12" font-weight="normal" >0.2</text>
<line x1="475.08" y1="640.30" x2="475.08" y2="652.30" stroke="#000" stroke-width="1.7"/>
<text transform="translate(475.08 670.80) scale(1.05 1)" text-anchor="middle" font-size="12" font-weight="normal" >0.4</text>
<line x1="537.66" y1="640.30" x2="537.66" y2="652.30" stroke="#000" stroke-width="1.7"/>
<text transform="translate(537.66 670.80) scale(1.05 1)" text-anchor="middle" font-size="12" font-weight="normal" >0.6</text>
<line x1="600.24" y1="640.30" x2="600.24" y2="652.30" stroke="#000" stroke-width="1.7"/>
<text transform="translate(600.24 670.80) scale(1.05 1)" text-anchor="middle" font-size="12" font-weight="normal" >0.8</text>
<line x1="662.82" y1="640.30" x2="662.82" y2="652.30" stroke="#000" stroke-width="1.7"/>
<text transform="translate(662.82 670.80) scale(1.05 1)" text-anchor="middle" font-size="12" font-weight="normal" >1.0</text>
<rect x="397.56" y="636.30" width="15.64" height="0.60" fill="#ffc0c2"/>
<rect x="413.20" y="636.30" width="15.64" height="0.60" fill="#ffc0c2"/>
<rect x="428.84" y="636.30" width="15.65" height="0.60" fill="#ffc0c2"/>
<rect x="444.49" y="636.30" width="15.64" height="0.60" fill="#ffc0c2"/>
<rect x="460.13" y="636.30" width="15.64" height="0.60" fill="#ffc0c2"/>
<rect x="475.78" y="636.30" width="15.65" height="0.60" fill="#ffc0c2"/>
<rect x="491.43" y="635.80" width="15.64" height="1.10" fill="#ffc0c2"/>
<rect x="507.07" y="631.49" width="15.65" height="5.41" fill="#ffc0c2"/>
<rect x="522.72" y="629.88" width="15.64" height="7.02" fill="#ffc0c2"/>
<rect x="538.36" y="618.56" width="15.65" height="18.34" fill="#ffc0c2"/>
<rect x="554.01" y="603.63" width="15.64" height="33.27" fill="#ffc0c2"/>
<rect x="569.65" y="567.66" width="15.64" height="69.24" fill="#ffc0c2"/>
<rect x="585.30" y="532.49" width="15.64" height="104.41" fill="#ffc0c2"/>
<rect x="600.94" y="547.32" width="15.64" height="89.58" fill="#ffc0c2"/>
<rect x="616.59" y="555.44" width="15.64" height="81.46" fill="#ffc0c2"/>
<rect x="632.23" y="582.59" width="15.64" height="54.31" fill="#ffc0c2"/>
<rect x="647.88" y="622.57" width="15.64" height="14.33" fill="#ffc0c2"/>
<path d="M397.56 636.90L397.56 636.30L413.20 636.30L413.20 636.30L428.84 636.30L428.84 636.30L444.49 636.30L444.49 636.30L460.13 636.30L460.13 636.30L475.78 636.30L475.78 636.30L491.43 636.30L491.43 635.80L507.07 635.80L507.07 631.49L522.72 631.49L522.72 629.88L538.36 629.88L538.36 618.56L554.01 618.56L554.01 603.63L569.65 603.63L569.65 567.66L585.30 567.66L585.30 532.49L600.94 532.49L600.94 547.32L616.59 547.32L616.59 555.44L632.23 555.44L632.23 582.59L647.88 582.59L647.88 622.57L663.52 622.57L663.52 636.90ZM507.07 636.90L507.07 635.80M522.72 636.90L522.72 631.49M538.36 636.90L538.36 629.88M554.01 636.90L554.01 618.56M569.65 636.90L569.65 603.63M585.30 636.90L585.30 567.66M600.94 636.90L600.94 547.32M616.59 636.90L616.59 555.44M632.23 636.90L632.23 582.59M647.88 636.90L647.88 622.57" fill="none" stroke="#e00810" stroke-width="1.8" stroke-linejoin="miter"/>
<rect x="418" y="484" width="115" height="24" fill="#fff" stroke="#000" stroke-width="2.0"/>
<text transform="translate(475.35 501.40) scale(1.02 1)" text-anchor="middle" font-size="14" font-weight="bold" stroke="#000" stroke-width="0.15" >f. 8x interglacial</text>
<line x1="61.70" y1="704.10" x2="61.70" y2="858.20" stroke="#000" stroke-width="1.9"/>
<line x1="50.20" y1="704.90" x2="61.70" y2="704.90" stroke="#000" stroke-width="1.7"/>
<text transform="translate(44.70 709.50) scale(1.05 1)" text-anchor="end" font-size="12" font-weight="normal" >3000</text>
<line x1="50.20" y1="729.95" x2="61.70" y2="729.95" stroke="#000" stroke-width="1.7"/>
<text transform="translate(44.70 734.55) scale(1.05 1)" text-anchor="end" font-size="12" font-weight="normal" >2500</text>
<line x1="50.20" y1="755.00" x2="61.70" y2="755.00" stroke="#000" stroke-width="1.7"/>
<text transform="translate(44.70 759.60) scale(1.05 1)" text-anchor="end" font-size="12" font-weight="normal" >2000</text>
<line x1="50.20" y1="780.05" x2="61.70" y2="780.05" stroke="#000" stroke-width="1.7"/>
<text transform="translate(44.70 784.65) scale(1.05 1)" text-anchor="end" font-size="12" font-weight="normal" >1500</text>
<line x1="50.20" y1="805.10" x2="61.70" y2="805.10" stroke="#000" stroke-width="1.7"/>
<text transform="translate(44.70 809.70) scale(1.05 1)" text-anchor="end" font-size="12" font-weight="normal" >1000</text>
<line x1="50.20" y1="830.15" x2="61.70" y2="830.15" stroke="#000" stroke-width="1.7"/>
<text transform="translate(44.70 834.75) scale(1.05 1)" text-anchor="end" font-size="12" font-weight="normal" >500</text>
<text transform="translate(44.70 859.80) scale(1.05 1)" text-anchor="end" font-size="12" font-weight="normal" >0</text>
<line x1="60.90" y1="857.40" x2="315.90" y2="857.40" stroke="#000" stroke-width="1.9"/>
<line x1="64.50" y1="857.40" x2="64.50" y2="869.40" stroke="#000" stroke-width="1.7"/>
<text transform="translate(64.50 887.90) scale(1.05 1)" text-anchor="middle" font-size="12" font-weight="normal" >0.2</text>
<line x1="127.15" y1="857.40" x2="127.15" y2="869.40" stroke="#000" stroke-width="1.7"/>
<text transform="translate(127.15 887.90) scale(1.05 1)" text-anchor="middle" font-size="12" font-weight="normal" >0.4</text>
<line x1="189.80" y1="857.40" x2="189.80" y2="869.40" stroke="#000" stroke-width="1.7"/>
<text transform="translate(189.80 887.90) scale(1.05 1)" text-anchor="middle" font-size="12" font-weight="normal" >0.6</text>
<line x1="252.45" y1="857.40" x2="252.45" y2="869.40" stroke="#000" stroke-width="1.7"/>
<text transform="translate(252.45 887.90) scale(1.05 1)" text-anchor="middle" font-size="12" font-weight="normal" >0.8</text>
<line x1="315.10" y1="857.40" x2="315.10" y2="869.40" stroke="#000" stroke-width="1.7"/>
<text transform="translate(315.10 887.90) scale(1.05 1)" text-anchor="middle" font-size="12" font-weight="normal" >1.0</text>
<rect x="49.54" y="853.40" width="15.66" height="0.60" fill="#ffc0c2"/>
<rect x="65.20" y="853.40" width="15.66" height="0.60" fill="#ffc0c2"/>
<rect x="80.86" y="853.40" width="15.66" height="0.60" fill="#ffc0c2"/>
<rect x="96.53" y="850.69" width="15.66" height="3.31" fill="#ffc0c2"/>
<rect x="112.19" y="848.99" width="15.66" height="5.01" fill="#ffc0c2"/>
<rect x="127.85" y="845.98" width="15.66" height="8.02" fill="#ffc0c2"/>
<rect x="143.51" y="841.47" width="15.66" height="12.53" fill="#ffc0c2"/>
<rect x="159.17" y="836.26" width="15.66" height="17.74" fill="#ffc0c2"/>
<rect x="174.84" y="831.55" width="15.66" height="22.45" fill="#ffc0c2"/>
<rect x="190.50" y="816.92" width="15.66" height="37.08" fill="#ffc0c2"/>
<rect x="206.16" y="806.00" width="15.66" height="48.00" fill="#ffc0c2"/>
<rect x="221.82" y="782.66" width="15.66" height="71.34" fill="#ffc0c2"/>
<rect x="237.49" y="768.93" width="15.66" height="85.07" fill="#ffc0c2"/>
<rect x="253.15" y="785.86" width="15.66" height="68.14" fill="#ffc0c2"/>
<rect x="268.81" y="798.79" width="15.66" height="55.21" fill="#ffc0c2"/>
<rect x="284.47" y="823.94" width="15.66" height="30.06" fill="#ffc0c2"/>
<rect x="300.14" y="845.08" width="15.66" height="8.92" fill="#ffc0c2"/>
<path d="M49.54 854.00L49.54 853.40L65.20 853.40L65.20 853.40L80.86 853.40L80.86 853.40L96.53 853.40L96.53 850.69L112.19 850.69L112.19 848.99L127.85 848.99L127.85 845.98L143.51 845.98L143.51 841.47L159.17 841.47L159.17 836.26L174.84 836.26L174.84 831.55L190.50 831.55L190.50 816.92L206.16 816.92L206.16 806.00L221.82 806.00L221.82 782.66L237.49 782.66L237.49 768.93L253.15 768.93L253.15 785.86L268.81 785.86L268.81 798.79L284.47 798.79L284.47 823.94L300.14 823.94L300.14 845.08L315.80 845.08L315.80 854.00ZM112.19 854.00L112.19 850.69M127.85 854.00L127.85 848.99M143.51 854.00L143.51 845.98M159.17 854.00L159.17 841.47M174.84 854.00L174.84 836.26M190.50 854.00L190.50 831.55M206.16 854.00L206.16 816.92M221.82 854.00L221.82 806.00M237.49 854.00L237.49 782.66M253.15 854.00L253.15 785.86M268.81 854.00L268.81 798.79M284.47 854.00L284.47 823.94M300.14 854.00L300.14 845.08" fill="none" stroke="#e00810" stroke-width="1.8" stroke-linejoin="miter"/>
<rect x="68" y="701" width="130" height="24" fill="#fff" stroke="#000" stroke-width="2.0"/>
<text transform="translate(132.70 718.20) scale(1.02 1)" text-anchor="middle" font-size="14" font-weight="bold" stroke="#000" stroke-width="0.15" >g. 16x_interglacial</text>
<line x1="406.10" y1="704.10" x2="406.10" y2="858.00" stroke="#000" stroke-width="1.9"/>
<line x1="394.60" y1="704.90" x2="406.10" y2="704.90" stroke="#000" stroke-width="1.7"/>
<text transform="translate(389.10 709.50) scale(1.05 1)" text-anchor="end" font-size="12" font-weight="normal" >3000</text>
<line x1="394.60" y1="729.95" x2="406.10" y2="729.95" stroke="#000" stroke-width="1.7"/>
<text transform="translate(389.10 734.55) scale(1.05 1)" text-anchor="end" font-size="12" font-weight="normal" >2500</text>
<line x1="394.60" y1="755.00" x2="406.10" y2="755.00" stroke="#000" stroke-width="1.7"/>
<text transform="translate(389.10 759.60) scale(1.05 1)" text-anchor="end" font-size="12" font-weight="normal" >2000</text>
<line x1="394.60" y1="780.05" x2="406.10" y2="780.05" stroke="#000" stroke-width="1.7"/>
<text transform="translate(389.10 784.65) scale(1.05 1)" text-anchor="end" font-size="12" font-weight="normal" >1500</text>
<line x1="394.60" y1="805.10" x2="406.10" y2="805.10" stroke="#000" stroke-width="1.7"/>
<text transform="translate(389.10 809.70) scale(1.05 1)" text-anchor="end" font-size="12" font-weight="normal" >1000</text>
<line x1="394.60" y1="830.15" x2="406.10" y2="830.15" stroke="#000" stroke-width="1.7"/>
<text transform="translate(389.10 834.75) scale(1.05 1)" text-anchor="end" font-size="12" font-weight="normal" >500</text>
<text transform="translate(389.10 859.80) scale(1.05 1)" text-anchor="end" font-size="12" font-weight="normal" >0</text>
<line x1="405.30" y1="857.20" x2="660.12" y2="857.20" stroke="#000" stroke-width="1.9"/>
<line x1="409.00" y1="857.20" x2="409.00" y2="869.20" stroke="#000" stroke-width="1.7"/>
<text transform="translate(409.00 887.70) scale(1.05 1)" text-anchor="middle" font-size="12" font-weight="normal" >0.2</text>
<line x1="471.58" y1="857.20" x2="471.58" y2="869.20" stroke="#000" stroke-width="1.7"/>
<text transform="translate(471.58 887.70) scale(1.05 1)" text-anchor="middle" font-size="12" font-weight="normal" >0.4</text>
<line x1="534.16" y1="857.20" x2="534.16" y2="869.20" stroke="#000" stroke-width="1.7"/>
<text transform="translate(534.16 887.70) scale(1.05 1)" text-anchor="middle" font-size="12" font-weight="normal" >0.6</text>
<line x1="596.74" y1="857.20" x2="596.74" y2="869.20" stroke="#000" stroke-width="1.7"/>
<text transform="translate(596.74 887.70) scale(1.05 1)" text-anchor="middle" font-size="12" font-weight="normal" >0.8</text>
<line x1="659.32" y1="857.20" x2="659.32" y2="869.20" stroke="#000" stroke-width="1.7"/>
<text transform="translate(659.32 887.70) scale(1.05 1)" text-anchor="middle" font-size="12" font-weight="normal" >1.0</text>
<rect x="394.06" y="853.40" width="15.64" height="0.60" fill="#ffc0c2"/>
<rect x="409.70" y="853.40" width="15.64" height="0.60" fill="#ffc0c2"/>
<rect x="425.34" y="838.77" width="15.65" height="15.23" fill="#ffc0c2"/>
<rect x="440.99" y="823.04" width="15.64" height="30.96" fill="#ffc0c2"/>
<rect x="456.63" y="836.76" width="15.64" height="17.24" fill="#ffc0c2"/>
<rect x="472.28" y="832.25" width="15.65" height="21.75" fill="#ffc0c2"/>
<rect x="487.93" y="828.15" width="15.64" height="25.85" fill="#ffc0c2"/>
<rect x="503.57" y="821.93" width="15.65" height="32.07" fill="#ffc0c2"/>
<rect x="519.22" y="824.64" width="15.64" height="29.36" fill="#ffc0c2"/>
<rect x="534.86" y="814.62" width="15.65" height="39.38" fill="#ffc0c2"/>
<rect x="550.51" y="811.71" width="15.64" height="42.29" fill="#ffc0c2"/>
<rect x="566.15" y="797.28" width="15.64" height="56.72" fill="#ffc0c2"/>
<rect x="581.80" y="791.57" width="15.64" height="62.43" fill="#ffc0c2"/>
<rect x="597.44" y="808.71" width="15.64" height="45.29" fill="#ffc0c2"/>
<rect x="613.09" y="820.63" width="15.64" height="33.37" fill="#ffc0c2"/>
<rect x="628.73" y="838.57" width="15.64" height="15.43" fill="#ffc0c2"/>
<rect x="644.38" y="850.49" width="15.64" height="3.51" fill="#ffc0c2"/>
<path d="M394.06 854.00L394.06 853.40L409.70 853.40L409.70 853.40L425.34 853.40L425.34 838.77L440.99 838.77L440.99 823.04L456.63 823.04L456.63 836.76L472.28 836.76L472.28 832.25L487.93 832.25L487.93 828.15L503.57 828.15L503.57 821.93L519.22 821.93L519.22 824.64L534.86 824.64L534.86 814.62L550.51 814.62L550.51 811.71L566.15 811.71L566.15 797.28L581.80 797.28L581.80 791.57L597.44 791.57L597.44 808.71L613.09 808.71L613.09 820.63L628.73 820.63L628.73 838.57L644.38 838.57L644.38 850.49L660.02 850.49L660.02 854.00ZM440.99 854.00L440.99 838.77M456.63 854.00L456.63 836.76M472.28 854.00L472.28 836.76M487.93 854.00L487.93 832.25M503.57 854.00L503.57 828.15M519.22 854.00L519.22 824.64M534.86 854.00L534.86 824.64M550.51 854.00L550.51 814.62M566.15 854.00L566.15 811.71M581.80 854.00L581.80 797.28M597.44 854.00L597.44 808.71M613.09 854.00L613.09 820.63M628.73 854.00L628.73 838.57M644.38 854.00L644.38 850.49" fill="none" stroke="#e00810" stroke-width="1.8" stroke-linejoin="miter"/>
<rect x="412" y="701" width="127" height="24" fill="#fff" stroke="#000" stroke-width="2.0"/>
<text transform="translate(475.55 717.90) scale(1.02 1)" text-anchor="middle" font-size="14" font-weight="bold" stroke="#000" stroke-width="0.15" >h. 32x interglacial</text>
<text transform="translate(10.6,560.5) rotate(-90) scale(1.03 1)" text-anchor="middle" font-size="12">Count</text>
<text transform="translate(96.3 900.5) scale(1.03 1)" font-size="12">% of original CO<tspan font-size="8.5" dy="3">2</tspan><tspan dy="-3"> range recovered</tspan></text></g></svg></div></body></html>
